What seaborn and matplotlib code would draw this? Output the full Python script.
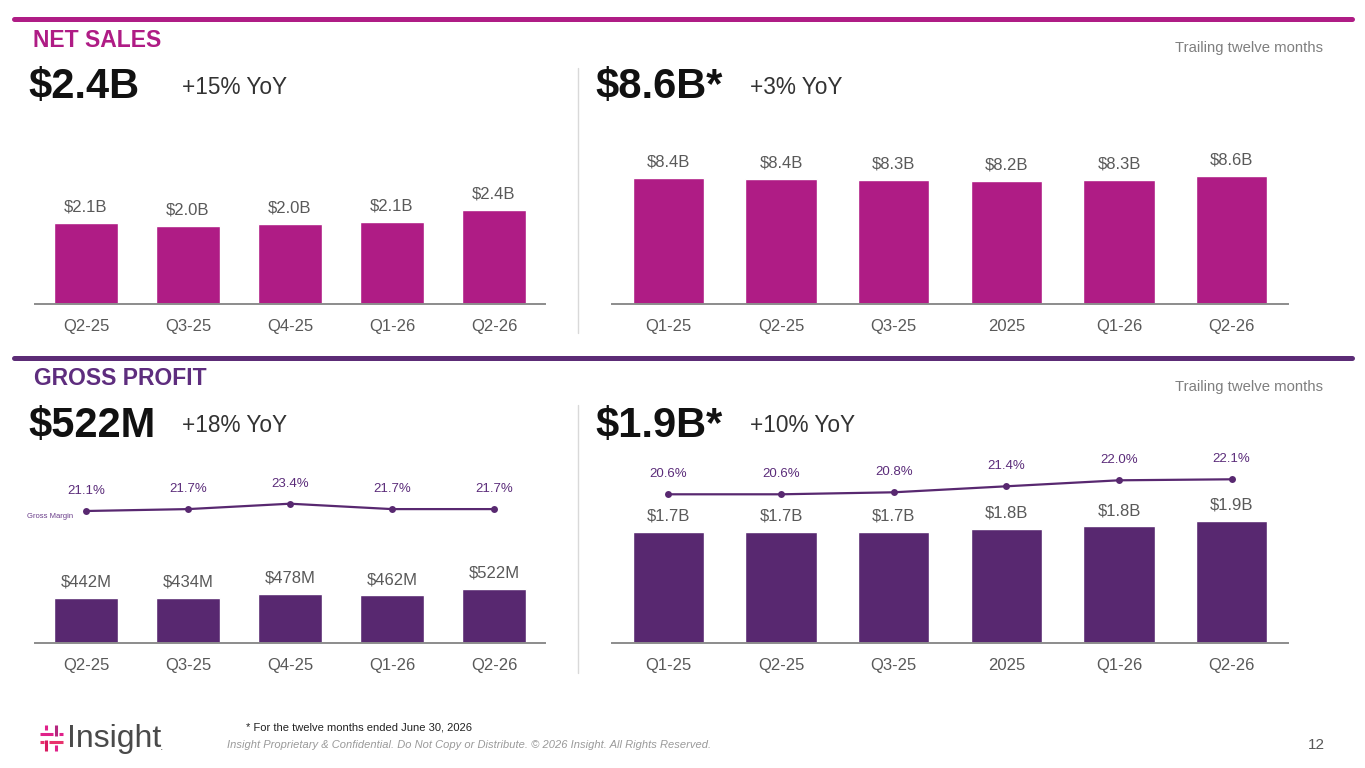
import matplotlib
matplotlib.use("Agg")
import matplotlib.pyplot as plt
from matplotlib.lines import Line2D
import numpy as np
import pandas as pd
import seaborn as sns

# ---------------- data ----------------
ns_q_cats = ["Q2-25", "Q3-25", "Q4-25", "Q1-26", "Q2-26"]
ns_q_vals = [2.07, 1.99, 2.04, 2.09, 2.40]          # $B

ns_ttm_cats = ["Q1-25", "Q2-25", "Q3-25", "2025", "Q1-26", "Q2-26"]
ns_ttm_vals = [8.44, 8.40, 8.33, 8.24, 8.33, 8.60]   # $B

gp_q_cats = ["Q2-25", "Q3-25", "Q4-25", "Q1-26", "Q2-26"]
gp_q_vals = [442, 434, 478, 462, 522]                # $M
gp_q_margin = [21.1, 21.7, 23.4, 21.7, 21.7]         # %

gp_ttm_cats = ["Q1-25", "Q2-25", "Q3-25", "2025", "Q1-26", "Q2-26"]
gp_ttm_vals = [1.72, 1.72, 1.72, 1.77, 1.81, 1.90]   # $B
gp_ttm_margin = [20.6, 20.6, 20.8, 21.4, 22.0, 22.1] # %

# ---------------- style ----------------
sns.set_theme(style="white")
plt.rcParams["font.family"] = ["Liberation Sans", "DejaVu Sans"]

MAGENTA = "#AF1C85"
PURPLE = "#582870"
GRAY_TXT = "#595959"
W, H = 1365, 768

fig = plt.figure(figsize=(W / 100, H / 100), dpi=100)
fig.patch.set_facecolor("white")


def fx(x):
    return x / W


def fy(y):
    return 1 - y / H


def add_ax(x0, x1, ytop, ybase):
    return fig.add_axes([x0 / W, 1 - ybase / H, (x1 - x0) / W, (ybase - ytop) / H])


def bar_panel(x0, x1, ytop, ybase, cats, vals, px_per_unit, color, fmt):
    ax = add_ax(x0, x1, ytop, ybase)
    df = pd.DataFrame({"cat": cats, "val": vals})
    sns.barplot(data=df, x="cat", y="val", color=color, saturation=1,
                width=0.635, ax=ax, order=cats)
    n = len(cats)
    ax.set_xlim(-0.5, n - 0.5)
    ax.set_ylim(0, (ybase - ytop) / px_per_unit)
    ax.set_xlabel("")
    ax.set_ylabel("")
    ax.set_yticks([])
    ax.patch.set_alpha(0)
    for s in ["top", "right", "left"]:
        ax.spines[s].set_visible(False)
    ax.spines["bottom"].set_color("#8C8C8C")
    ax.spines["bottom"].set_linewidth(1.4)
    ax.tick_params(axis="x", length=0, labelsize=12, labelcolor=GRAY_TXT, pad=10.5)
    for i, v in enumerate(vals):
        ax.annotate(fmt(v), (i, v), xytext=(0, 11.5), textcoords="offset points",
                    ha="center", va="center", fontsize=12, color=GRAY_TXT)
    return ax


def margin_panel(x0, x1, ytop, ybase, cats, margins, ref_val, ref_px, px_per_pct):
    ax = add_ax(x0, x1, ytop, ybase)
    n = len(cats)
    sns.lineplot(x=np.arange(n), y=margins, ax=ax, color=PURPLE, linewidth=1.6,
                 marker="o", markersize=5, markeredgewidth=0)
    ax.set_xlim(-0.5, n - 0.5)
    lo = ref_val - (ybase - ref_px) / px_per_pct
    hi = ref_val + (ref_px - ytop) / px_per_pct
    ax.set_ylim(lo, hi)
    ax.axis("off")
    for i, m in enumerate(margins):
        ax.annotate(f"{m:.1f}%", (i, m), xytext=(0, 14.5), textcoords="offset points",
                    ha="center", va="center", fontsize=9.5, color="#5B2C7A")
    return ax


# ---------------- panels ----------------
bar_panel(35, 545, 140, 304, ns_q_cats, ns_q_vals, 94 / 2.40, MAGENTA,
          lambda v: f"${v:.1f}B")
bar_panel(612, 1288, 140, 304, ns_ttm_cats, ns_ttm_vals, 128 / 8.60, MAGENTA,
          lambda v: f"${v:.1f}B")
bar_panel(35, 545, 540, 643, gp_q_cats, gp_q_vals, 53.7 / 522, PURPLE,
          lambda v: f"${v:.0f}M")
bar_panel(612, 1288, 440, 643, gp_ttm_cats, gp_ttm_vals, 122.3 / 1.90, PURPLE,
          lambda v: f"${v:.1f}B")

margin_panel(35, 545, 455, 540, gp_q_cats, gp_q_margin, 21.1, 511, 3.17)
margin_panel(612, 1288, 440, 520, gp_ttm_cats, gp_ttm_margin, 20.6, 494.3, 10.0)

fig.text(fx(50), fy(517), "Gross Margin", fontsize=5.5, color="#6A3D8A",
         ha="center", va="center")

# ---------------- header lines / dividers ----------------
fig.add_artist(Line2D([fx(14), fx(1352)], [fy(19), fy(19)], lw=3.6, color=MAGENTA))
fig.add_artist(Line2D([fx(14), fx(1352)], [fy(357.5), fy(357.5)], lw=3.6, color="#5C2C76"))
fig.add_artist(Line2D([fx(578), fx(578)], [fy(68), fy(333)], lw=1, color="#D9D9D9"))
fig.add_artist(Line2D([fx(578), fx(578)], [fy(405), fy(673)], lw=1, color="#D9D9D9"))

# ---------------- header texts ----------------
fig.text(fx(33), fy(40.5), "NET SALES", fontsize=16.5, fontweight="bold",
         color=MAGENTA, ha="left", va="center")
fig.text(fx(34), fy(379), "GROSS PROFIT", fontsize=16.5, fontweight="bold",
         color="#5E2D7E", ha="left", va="center")

for (x, y, t) in [(28, 87, "$2.4B"), (595, 87, "$8.6B*"),
                  (28, 426, "$522M"), (595, 426, "$1.9B*")]:
    fig.text(fx(x), fy(y), t, fontsize=30, fontweight="bold", color="#111111",
             ha="left", va="center")

for (x, y, t) in [(182, 87, "+15% YoY"), (750, 87, "+3% YoY"),
                  (182, 426, "+18% YoY"), (750, 426, "+10% YoY")]:
    fig.text(fx(x), fy(y), t, fontsize=16.3, color="#333333",
             ha="left", va="center")

for y in [48, 387]:
    fig.text(fx(1323), fy(y), "Trailing twelve months", fontsize=10.7,
             color="#7F7F7F", ha="right", va="center")

# ---------------- footer ----------------
fig.text(fx(246), fy(727), "* For the twelve months ended June 30, 2026",
         fontsize=8, color="#222222", ha="left", va="center")
fig.text(fx(227), fy(745),
         "Insight Proprietary & Confidential. Do Not Copy or Distribute. \u00a9 2026 Insight. All Rights Reserved.",
         fontsize=8, style="italic", color="#9A9A9A", ha="left", va="center")
fig.text(fx(1325), fy(745), "12", fontsize=11, color=GRAY_TXT, ha="right", va="center")

# logo icon (dashed hash mark)
seg = [
    ((46, 725), (46, 730), "#E0218A"),
    ((46, 740), (46, 751), "#D81B60"),
    ((56, 725), (56, 736), "#B5267F"),
    ((56, 745), (56, 751), "#E0218A"),
    ((40, 733.5), (53, 733.5), "#E0218A"),
    ((59, 733.5), (63, 733.5), "#E0218A"),
    ((40, 742), (44, 742), "#E8336D"),
    ((49, 742), (63, 742), "#E8336D"),
]
for (a, b, c) in seg:
    fig.add_artist(Line2D([fx(a[0]), fx(b[0])], [fy(a[1]), fy(b[1])],
                          lw=2.2, color=c, solid_capstyle="butt"))
fig.text(fx(67), fy(739), "Insight", fontsize=23, color="#4A4A4A",
         ha="left", va="center")
fig.text(fx(160), fy(747), ".", fontsize=9, color="#6A6A6A", ha="left", va="center")

fig.savefig("out.png", dpi=100, facecolor="white")
